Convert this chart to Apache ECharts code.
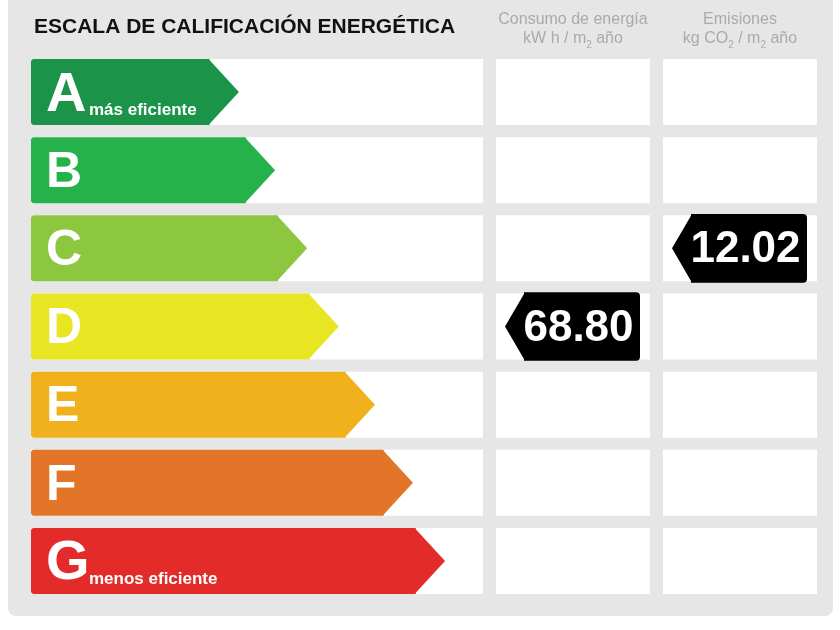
<!DOCTYPE html>
<html>
<head>
<meta charset="utf-8">
<script src="https://cdn.jsdelivr.net/npm/echarts@6/dist/echarts.min.js"></script>
<style>
  html, body { margin: 0; background: #fff; }
  #chart { width: 840px; height: 630px; }
</style>
</head>
<body>
<div id="chart"></div>
<script>
// clases de la escala
var ratings = ['A', 'B', 'C', 'D', 'E', 'F', 'G'];
var ratingColors = ['#1b9449', '#25b24a', '#8dc63f', '#e8e622', '#f0b11d', '#e27527', '#e32c2a'];
// largo de cada flecha, en % del ancho de la columna
var arrowLengths = [46, 54, 61.1, 68.1, 76.1, 84.5, 91.6];
var ratingNotes = ['más eficiente', '', '', '', '', '', 'menos eficiente'];

// valores del inmueble [valor, clase]
var consumo = [[68.80, 'D']];
var emisiones = [[12.02, 'C']];

var FONT = 'Liberation Sans, Arial, sans-serif';
var ROW_FILL = 0.845; // parte de la banda ocupada por la fila

function rowBox(api, idx) {
  var c = api.coord([0, idx]);
  var h = api.size([0, 1])[1] * ROW_FILL;
  return { y: c[1], top: c[1] - h / 2, h: h };
}

// flechas de la escala
function renderScale(params, api) {
  var idx = api.value(1);
  var b = rowBox(api, idx);
  var x0 = api.coord([0, idx])[0];
  var xCell = api.coord([100, idx])[0];
  var xTip = api.coord([api.value(0), idx])[0];
  var tip = b.h * 0.46;
  var bot = b.top + b.h;
  var big = ratingNotes[idx] ? 56 : 50;
  var children = [
    { type: 'rect', shape: { x: x0, y: b.top, width: xCell - x0, height: b.h }, style: { fill: '#fff' } },
    { type: 'rect', shape: { x: x0, y: b.top, width: xTip - tip - x0 + 1, height: b.h, r: [3, 0, 0, 3] }, style: { fill: ratingColors[idx] } },
    { type: 'polygon', shape: { points: [[xTip - tip, b.top], [xTip, b.y], [xTip - tip, bot]] }, style: { fill: ratingColors[idx] } },
    { type: 'text', style: { text: ratings[idx], x: x0 + 15, y: b.y + 3, fill: '#fff', font: 'bold ' + big + 'px ' + FONT, verticalAlign: 'middle' } }
  ];
  if (ratingNotes[idx]) {
    children.push({ type: 'text', style: { text: ratingNotes[idx], x: x0 + 58, y: bot - 6, fill: '#fff', font: 'bold 17px ' + FONT, verticalAlign: 'bottom' } });
  }
  return { type: 'group', children: children };
}

// celdas blancas de las columnas de valores
function renderCell(params, api) {
  var idx = api.value(1);
  var b = rowBox(api, idx);
  var x0 = api.coord([0, idx])[0];
  var x1 = api.coord([1, idx])[0];
  return { type: 'rect', shape: { x: x0, y: b.top, width: x1 - x0, height: b.h }, style: { fill: '#fff' } };
}

// etiqueta negra con el valor
function renderTag(params, api) {
  var idx = api.value(1);
  var b = rowBox(api, idx);
  var h = b.h * 1.04;
  var top = b.y - h / 2, bot = b.y + h / 2;
  var left = api.coord([0, idx])[0] + 9;
  var right = api.coord([1, idx])[0] - 10;
  var body = left + 20;
  return {
    type: 'group',
    children: [
      { type: 'rect', shape: { x: body - 1, y: top, width: right - body + 1, height: h, r: [0, 4, 4, 0] }, style: { fill: '#000' } },
      { type: 'polygon', shape: { points: [[body, top], [left, b.y], [body, bot]] }, style: { fill: '#000' } },
      { type: 'text', style: { text: api.value(0).toFixed(2), x: (body + right) / 2 - 4, y: b.y + 2, fill: '#fff', font: 'bold 44px ' + FONT, align: 'center', verticalAlign: 'middle' } }
    ]
  };
}

var headRich = {
  t: { fontSize: 16, color: '#aaaaaa', fontFamily: FONT, lineHeight: 22 },
  s: { fontSize: 10, color: '#aaaaaa', fontFamily: FONT, lineHeight: 10, verticalAlign: 'bottom' }
};

function columnAxis(grid, name) {
  return {
    gridIndex: grid, type: 'value', min: 0, max: 1, position: 'top',
    name: name, nameLocation: 'middle', nameGap: 3,
    nameTextStyle: { color: '#aaaaaa', fontSize: 16, fontFamily: FONT, lineHeight: 16, rich: headRich },
    axisLine: { show: false }, axisTick: { show: false }, axisLabel: { show: false }, splitLine: { show: false }
  };
}

function rowAxis(grid) {
  return { gridIndex: grid, type: 'category', data: ratings, inverse: true, show: false };
}

var chart = echarts.init(document.getElementById('chart'));
chart.setOption({
  animation: false,
  backgroundColor: '#fff',
  graphic: [{
    type: 'rect', left: 8, top: -10, z: -10,
    shape: { width: 825, height: 626, r: 8 },
    style: { fill: '#e6e6e6' }
  }],
  title: {
    text: 'ESCALA DE CALIFICACIÓN ENERGÉTICA',
    left: 34, top: 17, padding: 0,
    textStyle: { fontSize: 21, fontWeight: 'bold', color: '#111', fontFamily: FONT }
  },
  grid: [
    { left: 31, top: 53, width: 452, height: 547 },
    { left: 496, top: 53, width: 154, height: 547 },
    { left: 663, top: 53, width: 154, height: 547 }
  ],
  xAxis: [
    { gridIndex: 0, type: 'value', min: 0, max: 100, show: false },
    columnAxis(1, 'Consumo de energía\n{t|kW h / m}{s|2}{t| año}'),
    columnAxis(2, 'Emisiones\n{t|kg CO}{s|2}{t| / m}{s|2}{t| año}')
  ],
  yAxis: [rowAxis(0), rowAxis(1), rowAxis(2)],
  series: [
    {
      type: 'custom', xAxisIndex: 0, yAxisIndex: 0,
      renderItem: renderScale,
      data: ratings.map(function (r, i) { return [arrowLengths[i], r]; })
    },
    {
      type: 'custom', xAxisIndex: 1, yAxisIndex: 1, renderItem: renderCell,
      data: ratings.map(function (r) { return [0, r]; })
    },
    {
      type: 'custom', xAxisIndex: 2, yAxisIndex: 2, renderItem: renderCell,
      data: ratings.map(function (r) { return [0, r]; })
    },
    { type: 'custom', xAxisIndex: 1, yAxisIndex: 1, renderItem: renderTag, data: consumo, z: 5 },
    { type: 'custom', xAxisIndex: 2, yAxisIndex: 2, renderItem: renderTag, data: emisiones, z: 5 }
  ]
});
</script>
</body>
</html>
